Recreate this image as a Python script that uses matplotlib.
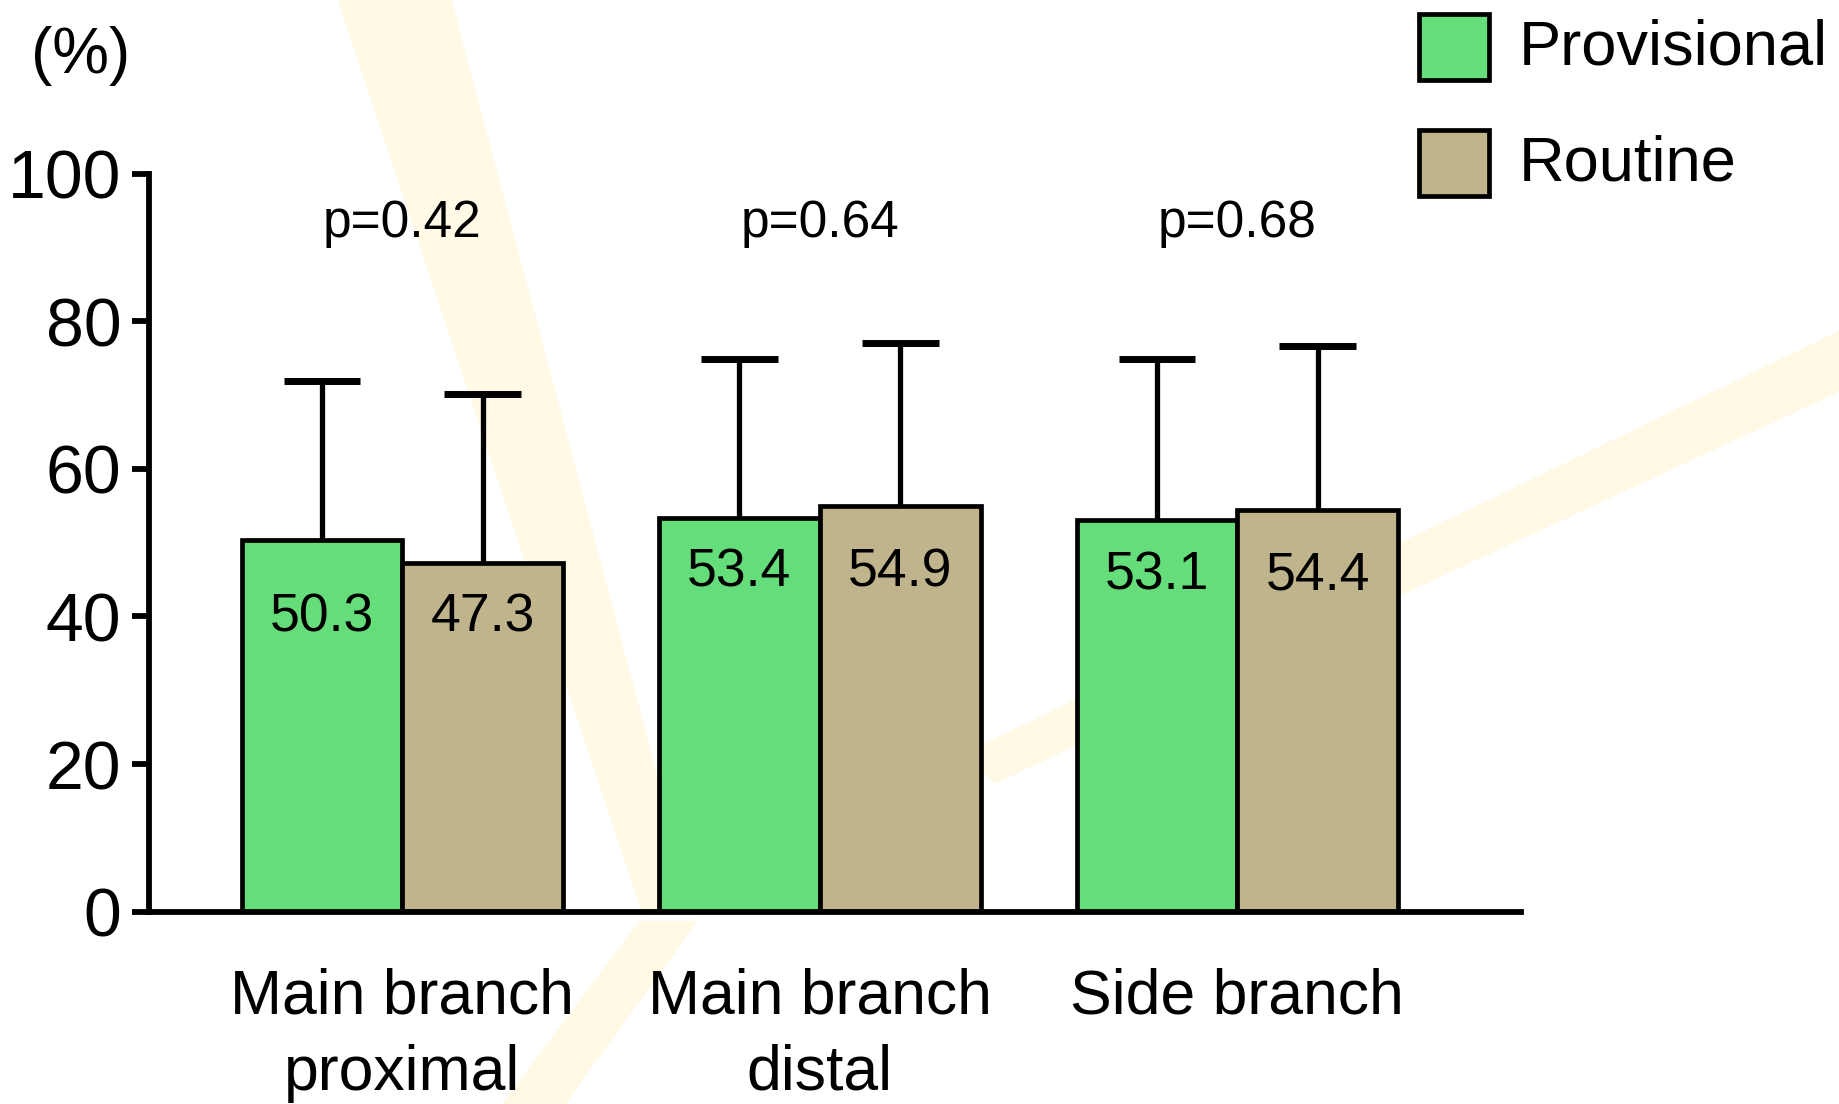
import matplotlib.pyplot as plt
import numpy as np
from matplotlib.patches import Polygon, Rectangle

plt.rcParams['font.family'] = ['Liberation Sans', 'DejaVu Sans']

# Data
categories = ['Main branch\nproximal', 'Main branch\ndistal', 'Side branch']
series_names = ['Provisional', 'Routine']
provisional = [50.3, 53.4, 53.1]
routine = [47.3, 54.9, 54.4]
provisional_sd = [21.6, 21.5, 21.8]
routine_sd = [22.8, 22.1, 22.2]
p_values = ['p=0.42', 'p=0.64', 'p=0.68']
y_ticks = [0, 20, 40, 60, 80, 100]

colors = ['#66DD7B', '#C0B48C']

fig = plt.figure(figsize=(18.39, 11.04), dpi=100)

# faint watermark bands in the background
W, H = 1568.0, 941.0
def frac(pts):
    return [(x / W, 1 - y / H) for x, y in pts]

band_color = '#FFF9E6'
for pts in [
    [(288, 0), (385, 0), (592, 780), (548, 780)],
    [(545, 785), (595, 785), (482, 941), (428, 941)],
    [(822, 642), (1568, 282), (1568, 334), (848, 668)],
]:
    fig.patches.append(Polygon(frac(pts), closed=True, transform=fig.transFigure,
                               facecolor=band_color, edgecolor='none', zorder=-1))

ax = fig.add_axes([127 / W, 1 - 777 / H, (1297 - 127) / W, (777 - 148) / H])
ax.patch.set_alpha(0)

x = np.arange(len(categories))
width = 0.385
offsets = [-width / 2, width / 2]

for vals, sds, off, col in zip([provisional, routine], [provisional_sd, routine_sd], offsets, colors):
    xs = x + off
    vals = np.array(vals)
    tops = vals + np.array(sds)
    # upward-only error bars
    ax.vlines(xs, vals, tops, color='black', linewidth=3.8, zorder=1)
    ax.hlines(tops, xs - 0.092, xs + 0.092, color='black', linewidth=5.0, zorder=1)
    ax.bar(xs, vals, width, color=col, edgecolor='black', linewidth=3.4, zorder=2)

# value labels inside the bars
for i in range(len(categories)):
    label_y = min(provisional[i], routine[i]) - 7.5
    for off, v in zip(offsets, [provisional[i], routine[i]]):
        ax.text(x[i] + off, label_y, f'{v:.1f}', ha='center', va='center',
                fontsize=38.5, zorder=3)
    ax.text(x[i], 93.3, p_values[i], ha='center', va='center', fontsize=37)

ax.set_xlim(-0.607, 2.680)
ax.set_ylim(0, 100)
ax.set_yticks(y_ticks)
ax.set_yticklabels([str(t) for t in y_ticks], fontsize=49)
ax.set_xticks(x)
ax.set_xticklabels(categories, fontsize=45, va='top', linespacing=1.38)

ax.spines['top'].set_visible(False)
ax.spines['right'].set_visible(False)
ax.spines['left'].set_linewidth(4.2)
ax.spines['bottom'].set_linewidth(4.2)
ax.tick_params(axis='y', length=12, width=4.2, pad=8)
ax.tick_params(axis='x', length=0, pad=40)

fig.text(69 / W, 1 - 48 / H, '(%)', ha='center', va='center', fontsize=46)

# legend
for k, (name, col) in enumerate(zip(series_names, colors)):
    y_top = 12 + k * 99
    fig.patches.append(Rectangle((1210 / W, 1 - (y_top + 56) / H), 60 / W, 56 / H,
                                 transform=fig.transFigure, facecolor=col,
                                 edgecolor='black', linewidth=3.4, zorder=3))
    fig.text(1295 / W, 1 - (y_top + 29) / H, name, ha='left', va='center', fontsize=45.5)

fig.savefig('out.png', dpi=100, facecolor='white')
